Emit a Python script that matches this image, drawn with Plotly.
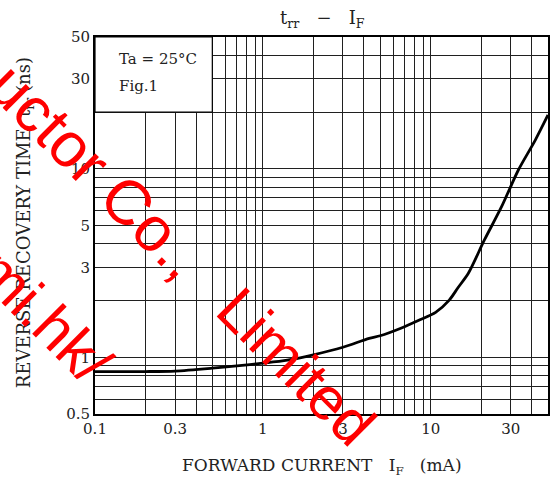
import math
import plotly.graph_objects as go

# ---- data ----
if_ma = [0.1, 0.2, 0.3, 0.5, 0.7, 1.0, 1.4, 2.0, 3.0, 4.3, 5.0, 6.7, 8.5, 10.7,
         12.9, 14.5, 16.8, 20.9, 26.4, 33.3, 42.0, 50.0]
trr_ns = [0.84, 0.84, 0.845, 0.875, 0.90, 0.93, 0.965, 1.03, 1.13, 1.26, 1.30, 1.43,
          1.57, 1.73, 2.01, 2.33, 2.8, 4.19, 6.27, 9.85, 14.2, 19.3]

x_grid = [0.1, 0.2, 0.3, 0.4, 0.5, 0.6, 0.7, 0.8, 0.9,
          1, 2, 3, 4, 5, 6, 7, 8, 9, 10, 20, 30, 40, 50]
x_labels = {0.1: "0.1", 0.3: "0.3", 1: "1", 3: "3", 10: "10", 30: "30"}
y_grid = [0.5, 0.6, 0.7, 0.8, 0.9, 1, 2, 3, 4, 5, 6, 7, 8, 9, 10, 20, 30, 40, 50]
y_labels = {0.5: "0.5", 1: "1", 3: "3", 5: "5", 10: "10", 30: "30", 50: "50"}

x_min, x_max = 0.1, 50
y_min, y_max = 0.5, 50

W, H = 552, 479
ML, MR, MT, MB = 95, 2, 37, 65
PW, PH = W - ML - MR, H - MT - MB

SERIF = "DejaVu Serif"


def px_x(p):
    return (p - ML) / PW


def px_y(p):
    return (H - MB - p) / PH


def dx(v):
    return math.log10(v / x_min) / math.log10(x_max / x_min)


def dy(v):
    return math.log10(v / y_min) / math.log10(y_max / y_min)


fig = go.Figure()
fig.add_trace(go.Scatter(x=if_ma, y=trr_ns, mode="lines",
                         line=dict(color="black", width=2.8, shape="spline", smoothing=0.8),
                         hoverinfo="skip", showlegend=False))

grid = dict(showgrid=True, gridcolor="#202020", gridwidth=1, zeroline=False,
            showline=True, linecolor="black", linewidth=2, mirror=True, ticks="",
            tickfont=dict(family=SERIF, size=15, color="#222"))

fig.update_xaxes(type="log", range=[math.log10(x_min), math.log10(x_max)],
                 tickvals=x_grid, ticktext=[x_labels.get(v, "") for v in x_grid], **grid)
fig.update_yaxes(type="log", range=[math.log10(y_min), math.log10(y_max)],
                 tickvals=y_grid, ticktext=[y_labels.get(v, "") for v in y_grid], **grid)

# inset box with conditions
fig.add_shape(type="rect", xref="paper", yref="paper",
              x0=dx(0.1), x1=dx(0.5), y0=dy(20), y1=dy(50),
              fillcolor="white", line=dict(color="black", width=1.2), layer="above")

ann = []
ann.append(dict(x=px_x(117), y=px_y(59), xref="paper", yref="paper", xanchor="left",
                yanchor="middle", showarrow=False,
                text="Ta = 25°C", font=dict(family=SERIF, size=15, color="#222")))
ann.append(dict(x=px_x(117), y=px_y(86), xref="paper", yref="paper", xanchor="left",
                yanchor="middle", showarrow=False,
                text="Fig.1", font=dict(family=SERIF, size=15, color="#222")))
ann.append(dict(x=px_x(324), y=px_y(19), xref="paper", yref="paper", xanchor="center",
                yanchor="middle", showarrow=False,
                text="t<sub>rr</sub>   −   I<sub>F</sub>", font=dict(family=SERIF, size=18, color="#222")))
ann.append(dict(x=px_x(323), y=px_y(466), xref="paper", yref="paper", xanchor="center",
                yanchor="middle", showarrow=False,
                text="FORWARD CURRENT   I<sub>F</sub>   (mA)", font=dict(family=SERIF, size=17, color="#222")))
ann.append(dict(x=px_x(25), y=px_y(223), xref="paper", yref="paper", xanchor="center",
                yanchor="middle", showarrow=False, textangle=-90,
                text="REVERSE RECOVERY TIME  t<sub>rr</sub> (ns)", font=dict(family=SERIF, size=18, color="#222")))

# red watermark
wm_font = dict(family="Liberation Sans", size=60, color="red")
ann.append(dict(x=px_x(97), y=px_y(171), xref="paper", yref="paper", xanchor="center",
                yanchor="middle", showarrow=False, textangle=45, text="uctor Co.,",
                font=dict(family="Liberation Sans", size=63, color="red")))
ann.append(dict(x=px_x(297), y=px_y(366), xref="paper", yref="paper", xanchor="center",
                yanchor="middle", showarrow=False, textangle=45, text="Limited", font=wm_font))
ann.append(dict(x=px_x(44), y=px_y(316), xref="paper", yref="paper", xanchor="center",
                yanchor="middle", showarrow=False, textangle=45, text="mi.hk/", font=wm_font))

fig.update_layout(width=W, height=H, margin=dict(l=ML, r=MR, t=MT, b=MB),
                  paper_bgcolor="white", plot_bgcolor="white", annotations=ann,
                  showlegend=False)

fig.write_html("out.html", config={"displayModeBar": False, "staticPlot": True},
               post_script="document.body.style.margin='0';document.body.style.overflow='hidden';")
